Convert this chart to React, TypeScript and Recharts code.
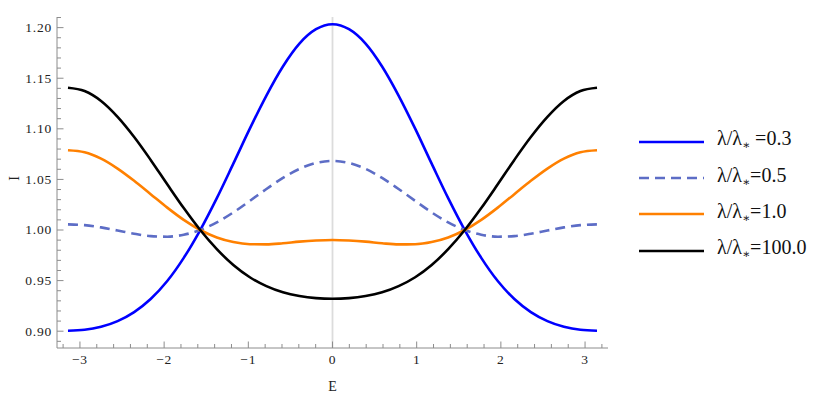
import React from 'react';
import { LineChart, Line, XAxis, YAxis, ReferenceLine, Legend } from 'recharts';

// Energy samples (E from -π to π)
const energy = [
  -3.142, -2.945, -2.749, -2.553, -2.356, -2.160, -1.963, -1.767, -1.571, -1.374, -1.178, -0.982, -0.785, -0.589, -0.393, -0.196,
  0,
  0.196, 0.393, 0.589, 0.785, 0.982, 1.178, 1.374, 1.571, 1.767, 1.963, 2.160, 2.356, 2.553, 2.749, 2.945, 3.142,
];

const lambda03 = [
  0.9005, 0.9014, 0.9044, 0.9100, 0.9189, 0.9318, 0.9496, 0.9725, 1.0000, 1.0315, 1.0656, 1.1002, 1.1329, 1.1616, 1.1842, 1.1984,
  1.2033,
  1.1984, 1.1842, 1.1616, 1.1329, 1.1002, 1.0656, 1.0315, 1.0000, 0.9725, 0.9496, 0.9318, 0.9189, 0.9100, 0.9044, 0.9014, 0.9005,
];

const lambda05 = [
  1.0056, 1.0048, 1.0026, 0.9995, 0.9963, 0.9940, 0.9934, 0.9953, 1.0000, 1.0075, 1.0174, 1.0288, 1.0405, 1.0515, 1.0604, 1.0662,
  1.0682,
  1.0662, 1.0604, 1.0515, 1.0405, 1.0288, 1.0174, 1.0075, 1.0000, 0.9953, 0.9934, 0.9940, 0.9963, 0.9995, 1.0026, 1.0048, 1.0056,
];

const lambda10 = [
  1.0788, 1.0768, 1.0705, 1.0607, 1.0486, 1.0354, 1.0221, 1.0100, 1.0000, 0.9926, 0.9881, 0.9860, 0.9858, 0.9869, 0.9885, 0.9896,
  0.9901,
  0.9896, 0.9885, 0.9869, 0.9858, 0.9860, 0.9881, 0.9926, 1.0000, 1.0100, 1.0221, 1.0354, 1.0486, 1.0607, 1.0705, 1.0768, 1.0788,
];

const lambda100 = [
  1.1406, 1.1373, 1.1275, 1.1118, 1.0919, 1.0693, 1.0452, 1.0217, 1.0000, 0.9811, 0.9654, 0.9533, 0.9445, 0.9384, 0.9347, 0.9327,
  0.9321,
  0.9327, 0.9347, 0.9384, 0.9445, 0.9533, 0.9654, 0.9811, 1.0000, 1.0217, 1.0452, 1.0693, 1.0919, 1.1118, 1.1275, 1.1373, 1.1406,
];

const seriesLabels = ['=0.3', '=0.5', '=1.0', '=100.0'];
const seriesPrefixSpace = [true, false, false, false];

const xTicks = [
  -3.2, -3.0, -2.8, -2.6, -2.4, -2.2, -2.0, -1.8, -1.6, -1.4, -1.2, -1.0, -0.8, -0.6, -0.4, -0.2,
  0, 0.2, 0.4, 0.6, 0.8, 1.0, 1.2, 1.4, 1.6, 1.8, 2.0, 2.2, 2.4, 2.6, 2.8, 3.0, 3.2,
];
const yTicks = [
  0.89, 0.90, 0.91, 0.92, 0.93, 0.94, 0.95, 0.96, 0.97, 0.98, 0.99, 1.00, 1.01, 1.02, 1.03, 1.04, 1.05,
  1.06, 1.07, 1.08, 1.09, 1.10, 1.11, 1.12, 1.13, 1.14, 1.15, 1.16, 1.17, 1.18, 1.19, 1.20, 1.21,
];

const data = energy.map((e, i) => ({
  E: e,
  a: lambda03[i],
  b: lambda05[i],
  c: lambda10[i],
  d: lambda100[i],
}));

const COLORS = ['#0000ff', '#5d6dc6', '#ff8000', '#000000'];
const DASHES = [undefined, '10 6', undefined, undefined];
const AXIS = '#8c8c8c';
const FONT = 'Liberation Serif, Times New Roman, DejaVu Serif, serif';
const TEXT = '#222';

const isMajorX = (v: number) => Math.abs(v - Math.round(v)) < 1e-6;
const isMajorY = (v: number) => Math.abs(v * 20 - Math.round(v * 20)) < 1e-6;
const fmtX = (v: number) => (v < 0 ? '\u2212' + Math.abs(Math.round(v)) : String(Math.round(v)));

function BottomTick(props: any) {
  const { x, y, payload } = props;
  const v = payload.value;
  const major = isMajorX(v);
  return (
    <g>
      <line x1={x} x2={x} y1={y} y2={y - (major ? 6.5 : 4)} stroke={AXIS} strokeWidth={1} />
      {major && (
        <text x={x} y={y + 16} textAnchor="middle" fontSize={13.5} letterSpacing={0.8} style={{ fontFamily: FONT }} fill={TEXT}>
          {fmtX(v)}
        </text>
      )}
    </g>
  );
}

function TopTick(props: any) {
  const { x, y, payload } = props;
  const major = isMajorX(payload.value);
  return <line x1={x} x2={x} y1={y} y2={y + (major ? 6.5 : 4)} stroke={AXIS} strokeWidth={1} />;
}

function LeftTick(props: any) {
  const { x, y, payload } = props;
  const v = payload.value;
  const major = isMajorY(v);
  return (
    <g>
      <line x1={x} x2={x + (major ? 6.5 : 4)} y1={y} y2={y} stroke={AXIS} strokeWidth={1} />
      {major && (
        <text x={x - 5} y={y + 4.4} textAnchor="end" fontSize={13.5} letterSpacing={0.8} style={{ fontFamily: FONT }} fill={TEXT}>
          {v.toFixed(2)}
        </text>
      )}
    </g>
  );
}

function RightTick(props: any) {
  const { x, y, payload } = props;
  const major = isMajorY(payload.value);
  return <line x1={x} x2={x - (major ? 6.5 : 4)} y1={y} y2={y} stroke={AXIS} strokeWidth={1} />;
}

function YLabel(props: any) {
  const vb = props.viewBox || {};
  const cx = (vb.x ?? 0) + 14;
  const cy = (vb.y ?? 0) + (vb.height ?? 0) / 2 - 4;
  return (
    <text x={cx} y={cy} textAnchor="middle" dominantBaseline="central" fontSize={14} style={{ fontFamily: FONT }} fill={TEXT}
      transform={`rotate(-90 ${cx} ${cy})`}>
      I
    </text>
  );
}

function XLabel(props: any) {
  const vb = props.viewBox || {};
  const cx = (vb.x ?? 0) + (vb.width ?? 0) / 2;
  const cy = (vb.y ?? 0) + 43;
  return (
    <text x={cx} y={cy} textAnchor="middle" fontSize={14} style={{ fontFamily: FONT }} fill={TEXT}>
      E
    </text>
  );
}

function LegendBox() {
  return (
    <div style={{ fontFamily: FONT, color: '#111' }}>
      {seriesLabels.map((lab, i) => (
        <div key={i} style={{ display: 'flex', alignItems: 'center', height: 36.4 }}>
          <svg width={72} height={10} style={{ display: 'block' }}>
            <line x1={7} x2={72} y1={5} y2={5} stroke={COLORS[i]} strokeWidth={2.6} strokeDasharray={DASHES[i]} />
          </svg>
          <span style={{ marginLeft: 13, fontSize: 20, lineHeight: '20px', whiteSpace: 'nowrap' }}>
            λ/λ<span style={{ fontSize: 12, verticalAlign: -4 }}>∗</span>
            {seriesPrefixSpace[i] ? ' ' : ''}
            {lab}
          </span>
        </div>
      ))}
    </div>
  );
}

export default function App() {
  return (
    <div style={{ position: 'absolute', left: 0, top: 0, width: 830, height: 396, background: '#fff' }}>
      <LineChart width={830} height={396} data={data} margin={{ top: 17, right: 222, bottom: 0, left: 0 }}>
        <XAxis
          dataKey="E"
          type="number"
          domain={[-3.2725, 3.2725]}
          allowDataOverflow
          ticks={xTicks}
          interval={0}
          height={48}
          tickSize={0}
          tickMargin={0}
          tickLine={false}
          axisLine={{ stroke: AXIS }}
          tick={<BottomTick />}
          label={<XLabel />}
        />
        <XAxis
          xAxisId="top"
          orientation="top"
          dataKey="E"
          type="number"
          domain={[-3.2725, 3.2725]}
          allowDataOverflow
          ticks={xTicks}
          interval={0}
          height={0}
          tickSize={0}
          tickMargin={0}
          tickLine={false}
          axisLine={{ stroke: AXIS }}
          tick={<TopTick />}
        />
        <YAxis
          type="number"
          domain={[0.8834, 1.2105]}
          allowDataOverflow
          ticks={yTicks}
          interval={0}
          width={57}
          tickSize={0}
          tickMargin={0}
          tickLine={false}
          axisLine={{ stroke: AXIS }}
          tick={<LeftTick />}
          label={<YLabel />}
        />
        <YAxis
          yAxisId="right"
          orientation="right"
          type="number"
          domain={[0.8834, 1.2105]}
          allowDataOverflow
          ticks={yTicks}
          interval={0}
          width={0}
          tickSize={0}
          tickMargin={0}
          tickLine={false}
          axisLine={{ stroke: AXIS }}
          tick={<RightTick />}
        />
        <ReferenceLine x={0} stroke="#dcdcdc" strokeWidth={1.8} />
        <Line dataKey="a" type="monotone" stroke={COLORS[0]} strokeWidth={2.6} dot={false} isAnimationActive={false} />
        <Line dataKey="b" type="monotone" stroke={COLORS[1]} strokeWidth={2.6} strokeDasharray={DASHES[1]} dot={false} isAnimationActive={false} />
        <Line dataKey="c" type="monotone" stroke={COLORS[2]} strokeWidth={2.6} dot={false} isAnimationActive={false} />
        <Line dataKey="d" type="monotone" stroke={COLORS[3]} strokeWidth={2.6} dot={false} isAnimationActive={false} />
        <Legend
          layout="horizontal"
          verticalAlign="middle"
          align="center"
          wrapperStyle={{ position: 'absolute', left: 632, top: 123.5, width: 198, height: 150 }}
          content={() => <LegendBox />}
        />
      </LineChart>
    </div>
  );
}
